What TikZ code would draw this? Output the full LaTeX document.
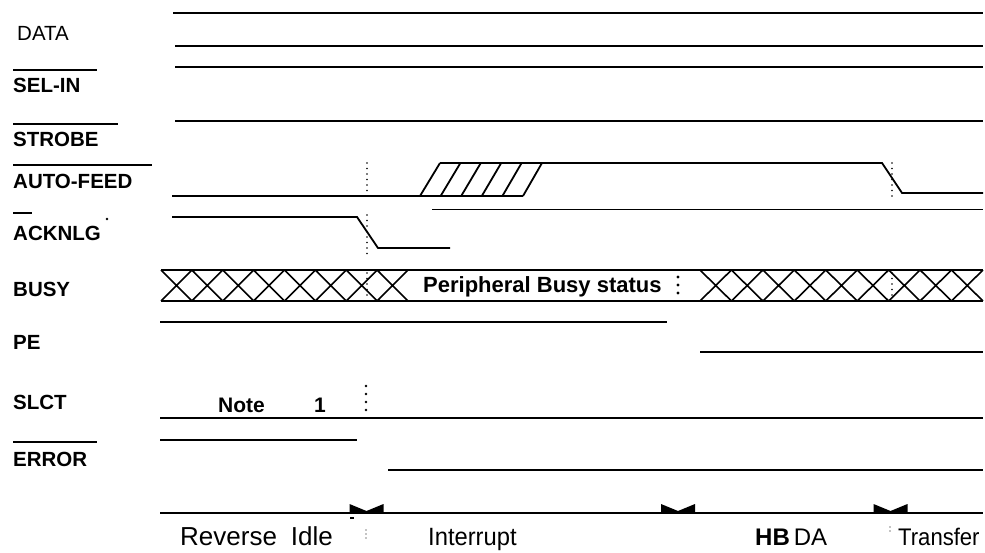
\documentclass[tikz,border=0pt]{standalone}
\usepackage{fontspec}
\setmainfont{Liberation Sans}

\begin{document}
\begin{tikzpicture}[
        x=1pt, y=-1pt,
        sig/.style={line width=1.8pt},
        thinsig/.style={line width=1pt},
        xing/.style={line width=1.6pt},
        bar/.style={line width=1.5pt},
        signame/.style={anchor=west, inner sep=0pt,
            font=\bfseries\fontsize{20.5}{24}\selectfont},
        phase/.style={anchor=base west, inner sep=0pt,
            font=\fontsize{24}{28}\selectfont},
        tick/.style={line width=1.9pt, line cap=round, dash pattern=on 0pt off 5.5pt},
        bigdots/.style={line width=3.4pt, line cap=round, dash pattern=on 0pt off 8pt}
    ]
    \useasboundingbox (0,0) rectangle (985,553);

    %Signal names
    \node[anchor=west, inner sep=0pt, font=\fontsize{20.5}{24}\selectfont] (data) at (17,33) {DATA};
    \node[signame] (selin) at (13,85) {SEL-IN};
    \node[signame] (strobe) at (13,139) {STROBE};
    \node[signame] (autofeed) at (13,181) {AUTO-FEED};
    \node[signame] (acknlg) at (13,233) {ACKNLG};
    \node[signame] (busy) at (13,289) {BUSY};
    \node[signame] (pe) at (13,342) {PE};
    \node[signame] (slct) at (13,402) {SLCT};
    \node[signame] (error) at (13,459) {ERROR};

    %Overbars for the active-low names
    \draw[bar] (13,70) -- (97,70);
    \draw[bar] (13,124) -- (118,124);
    \draw[bar] (13,165) -- (152,165);
    \draw[bar] (13,213) -- (32,213);
    \draw[bar] (13,442) -- (97,442);
    \fill (107,219) circle (1.3pt);

    %DATA, SEL-IN, STROBE
    \draw[sig] (173,13) -- (983,13);
    \draw[sig] (175,46) -- (983,46);
    \draw[sig] (175,67) -- (983,67);
    \draw[sig] (175,121) -- (983,121);

    %AUTO-FEED
    \draw[sig] (172,196) -- (523,196);
    \draw[sig] (440,163) -- (882,163) -- (902,193) -- (983,193);
    \foreach \i in {0,...,5}
        \draw[sig] ({420+\i*20.6},196) -- ({440+\i*20.4},163);
    \draw[thinsig] (432,210) -- (983,210);

    %ACKNLG
    \draw[sig] (172,217) -- (357,217) -- (378,248) -- (450,248);

    %BUSY
    \draw[sig] (161,270) -- (983,270);
    \draw[sig] (161,301) -- (983,301);
    \foreach \i in {0,...,7}
        \draw[xing] ({161+\i*30.875},270) -- ({161+(\i+1)*30.875},301)
                    ({161+\i*30.875},301) -- ({161+(\i+1)*30.875},270);
    \foreach \i in {0,...,8}
        \draw[xing] ({700+\i*31.44},270) -- ({700+(\i+1)*31.44},301)
                    ({700+\i*31.44},301) -- ({700+(\i+1)*31.44},270);
    \node[anchor=base west, inner sep=0pt, font=\bfseries\fontsize{22}{26}\selectfont]
        (status) at (423,293) {Peripheral Busy status};

    %PE
    \draw[sig] (160,322) -- (667,322);
    \draw[sig] (700,352) -- (983,352);

    %SLCT
    \draw[sig] (160,418) -- (983,418);
    \node[anchor=base west, inner sep=0pt, font=\bfseries\fontsize{21}{24}\selectfont]
        (note) at (218,412) {Note};
    \node[anchor=base west, inner sep=0pt, font=\bfseries\fontsize{21}{24}\selectfont]
        (noteno) at (314,412) {1};

    %ERROR
    \draw[sig] (160,440) -- (357,440);
    \draw[line width=2.3pt] (282,440) -- (357,440);
    \draw[sig] (388,470) -- (983,470);

    %time axis and markers
    \draw[sig] (160,513) -- (983,513);
    \foreach \m in {366.5,678,890.5}
        \fill (\m-17,504) -- (\m,511) -- (\m+17,504) -- (\m+17,513) -- (\m-17,513) -- cycle;
    \draw[line width=1.4pt] (350,518) -- (354,518);

    %dotted time lines
    \draw[tick] (367,163) -- (367,196);
    \draw[tick] (367,215) -- (367,258);
    \draw[tick] (367,273) -- (367,299);
    \draw[bigdots, line width=2.8pt] (366,386) -- (366,410);
    \draw[tick, line width=1.2pt, dash pattern=on 0pt off 4pt] (366,530) -- (366,538);
    \draw[bigdots] (678,277) -- (678,293);
    \draw[tick] (892,163) -- (892,200);
    \draw[tick] (892,273) -- (892,298);
    \draw[tick, line width=1.2pt, dash pattern=on 0pt off 4pt] (890,527) -- (890,533);

    %phase names
    \node[phase, font=\fontsize{26}{30}\selectfont] (rev) at (180,545) {Reverse\hspace{14pt}Idle};
    \node[phase, font=\fontsize{25}{28}\selectfont] (intr) at (428,545) {\scalebox{0.95}[1]{Interrupt}};
    \node[phase] (hbda) at (755,545) {\textbf{HB}\,DA};
    \node[phase] (xfer) at (898,545) {\scalebox{0.92}[1]{Transfer}};
\end{tikzpicture}
\end{document}
